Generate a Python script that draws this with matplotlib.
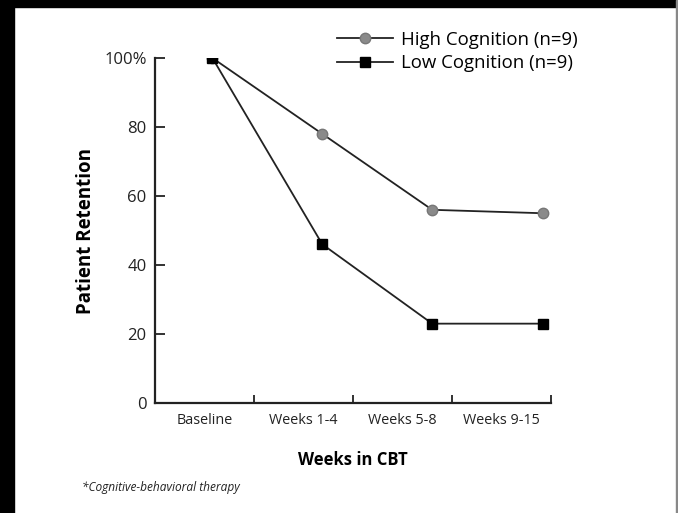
import matplotlib
matplotlib.use("Agg")
import matplotlib.pyplot as plt
from matplotlib.patches import Rectangle

# data
categories = ["Baseline", "Weeks 1-4", "Weeks 5-8", "Weeks 9-15"]
point_x = [0.58, 1.69, 2.80, 3.92]
high_cognition = [100, 78, 56, 55]
low_cognition = [100, 46, 23, 23]
y_ticks = [0, 20, 40, 60, 80, 100]
y_labels = ["0", "20", "40", "60", "80", "100%"]

plt.rcParams["font.family"] = ["Open Sans", "DejaVu Sans"]

W, H = 678, 513
fig = plt.figure(figsize=(W / 100, H / 100), dpi=100)

# axes placed in pixel terms
left, right, bottom, top = 155, 551, 403, 58
ax = fig.add_axes([left / W, 1 - bottom / H, (right - left) / W, (bottom - top) / H])

ax.plot(point_x, high_cognition, color="#222222", lw=1.3, marker="o", ms=7.5,
        mfc="#8a8a8a", mec="#777777", label="High Cognition (n=9)", zorder=3)
ax.plot(point_x, low_cognition, color="#222222", lw=1.3, marker="s", ms=6.5,
        mfc="black", mec="black", label="Low Cognition (n=9)", zorder=4)

ax.set_xlim(0, 4)
ax.set_ylim(0, 100)
ax.spines["top"].set_visible(False)
ax.spines["right"].set_visible(False)
for s in ("left", "bottom"):
    ax.spines[s].set_linewidth(1.6)
    ax.spines[s].set_color("#222222")

ax.set_yticks(y_ticks)
ax.set_yticklabels(y_labels, fontsize=12, color="#222222")
ax.set_xticks(range(len(categories) + 1))
ax.set_xticklabels([])
ax.set_xticks([i + 0.5 for i in range(len(categories))], minor=True)
ax.set_xticklabels(categories, minor=True, fontsize=10.4, color="#222222")
ax.tick_params(axis="y", direction="in", length=7, width=1.3, pad=6, color="#222222")
ax.tick_params(axis="x", which="major", direction="in", length=6, width=1.3, color="#222222")
ax.tick_params(axis="x", which="minor", length=0, pad=7)

ax.set_ylabel("Patient Retention", fontsize=13.5, fontweight="bold", labelpad=6)
ax.set_xlabel("Weeks in CBT", fontsize=12, fontweight="bold", labelpad=17)

ax.legend(loc="upper left", bbox_to_anchor=(337 / W, 1 - 31 / H),
          bbox_transform=fig.transFigure, frameon=False, fontsize=13.4,
          handlelength=3.0, handletextpad=0.45, borderpad=0, borderaxespad=0,
          labelspacing=0.28)

fig.text(82 / W, 1 - 488 / H, "*Cognitive-behavioral therapy", fontsize=8.6,
         style="italic", color="#222222", va="center")

# frame around the figure
fig.add_artist(Rectangle((0, 1 - 7 / H), 1, 7 / H, transform=fig.transFigure, color="black"))
fig.add_artist(Rectangle((0, 0), 14 / W, 1, transform=fig.transFigure, color="black"))
fig.add_artist(Rectangle((1 - 2 / W, 0), 2 / W, 1, transform=fig.transFigure, color="#888888"))

fig.savefig("out.png", dpi=100)
